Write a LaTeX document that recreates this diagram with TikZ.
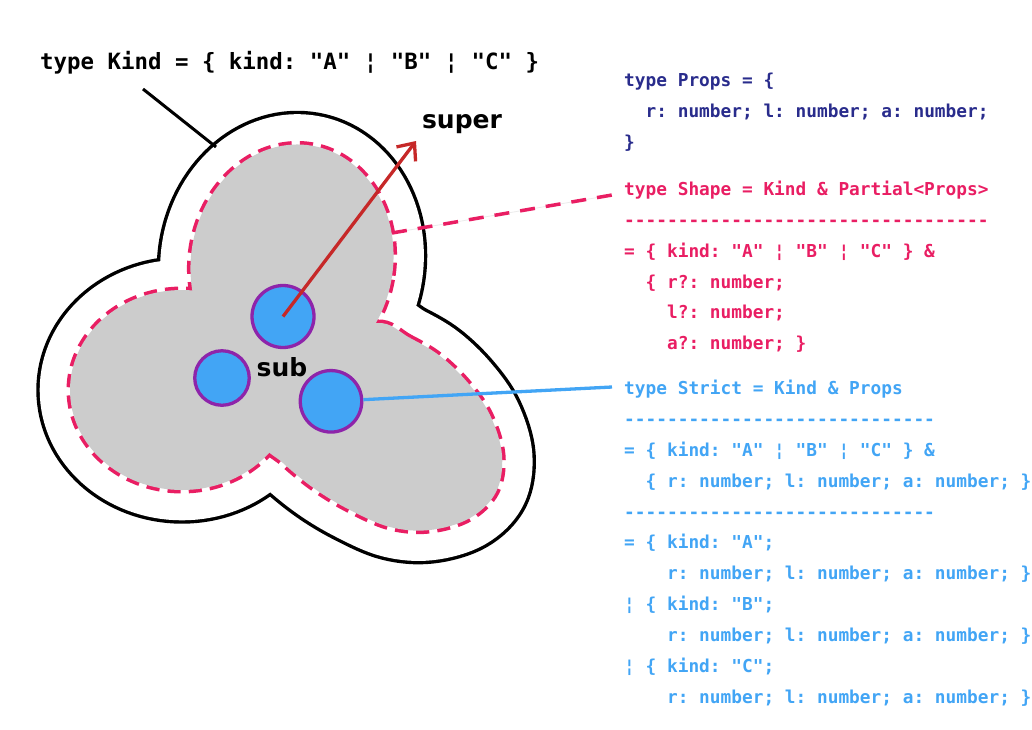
\documentclass[tikz,border=0pt]{standalone}
\usepackage{fontspec}
\setmonofont{DejaVu Sans Mono}
\newfontfamily\labelfont{DejaVu Sans}
\usetikzlibrary{arrows.meta}

\definecolor{navy}{RGB}{41,44,140}
\definecolor{shapepink}{RGB}{233,30,99}
\definecolor{strictblue}{RGB}{66,165,245}
\definecolor{arrowred}{RGB}{198,40,40}
\definecolor{ringpurple}{RGB}{142,36,170}
\definecolor{blobgray}{RGB}{204,204,204}

\newcommand\lobeTop[1]{\path[#1, rotate around={-10:(292,262)}] (292,262) ellipse [x radius=101, y radius=118];}
\newcommand\lobeLeft[1]{\path[#1] (182,390) ellipse [x radius=112, y radius=100];}
\newcommand\lobeRight[1]{\path[#1] plot[smooth cycle, tension=0.6] coordinates {(376.7,323) (410,338) (440,356) (468,383) (490,415) (502,455) (496,492) (470,518) (430,530) (390,527) (350,510) (315,489) (283,463) (262,440) (275,390) (320,345)};}
\newcommand\allLobes[1]{\lobeTop{#1}\lobeLeft{#1}\lobeRight{#1}}

\begin{document}
\begin{tikzpicture}[x=1pt,y=-1pt,
  code/.style={anchor=base west, inner sep=0pt, font=\fontsize{17.8}{20}\selectfont\ttfamily\bfseries},
  propstext/.style={code, text=navy},
  shapetext/.style={code, text=shapepink},
  stricttext/.style={code, text=strictblue},
  dot/.style={circle, draw=ringpurple, fill=strictblue, line width=3.3pt, inner sep=0pt},
  biglabel/.style={inner sep=0pt, font=\fontsize{25}{28}\selectfont\labelfont\bfseries},
  line join=round]
\useasboundingbox (0,0) rectangle (1032,729);

% outer outline (offset of the inner shape)
\allLobes{fill=black, draw=black, line width=67.4pt}
\allLobes{fill=white, draw=white, line width=60.6pt}
% inner dashed shape
\allLobes{draw=shapepink, line width=7pt, dash pattern=on 13pt off 8pt}
\allLobes{fill=blobgray}

% title
\node[anchor=base west, inner sep=0pt, font=\fontsize{22.4}{26}\selectfont\ttfamily\bfseries] (kind) at (40,69) {type Kind = \{ kind: "A" ¦ "B" ¦ "C" \}};
\coordinate (k1) at (143,89);
\coordinate (k2) at (216,147);
\draw[line width=3pt] (k1) -- (k2);

% dots
\node[dot, minimum size=62pt] (c1) at (283,316.5) {};
\node[dot, minimum size=54.5pt] (c2) at (222,378) {};
\node[dot, minimum size=61.5pt] (c3) at (331,401.3) {};

\node[biglabel] (sub) at (282,367) {sub};
\node[biglabel] (super) at (462,124) {super};

\coordinate (tip) at (416,141);
\draw[arrowred, line width=3.3pt, -{Straight Barb[length=14pt, width=24pt, line width=3.3pt]}] (c1.center) -- (tip);

% connectors to text
\coordinate (sh1) at (392,233);
\coordinate (sh2) at (612,195);
\draw[black!8, line width=0.8pt] (sh1) -- (sh2);
\draw[shapepink, line width=3.5pt, dash pattern=on 15pt off 11pt] (sh1) -- (sh2);
\coordinate (st) at (612,387);
\draw[strictblue, line width=3.3pt] (c3) -- (st);

% Props
\node[propstext] (p1) at (624,86) {type Props = \{};
\node[propstext] (p2) at (624,117) {\phantom{xx}r: number; l: number; a: number;};
\node[propstext] (p3) at (624,148) {\}};

% Shape
\node[shapetext] (s1) at (624,195) {type Shape = Kind \& Partial<Props>};
\node[shapetext] (s2) at (624,226) {----------------------------------};
\node[shapetext] (s3) at (624,257) {= \{ kind: "A" ¦ "B" ¦ "C" \} \&};
\node[shapetext] (s4) at (624,288) {\phantom{xx}\{ r?: number;};
\node[shapetext] (s5) at (624,318) {\phantom{xxxx}l?: number;};
\node[shapetext] (s6) at (624,349) {\phantom{xxxx}a?: number; \}};

% Strict
\node[stricttext] (t1) at (624,394) {type Strict = Kind \& Props};
\node[stricttext] (t2) at (624,425) {-----------------------------};
\node[stricttext] (t3) at (624,456) {= \{ kind: "A" ¦ "B" ¦ "C" \} \&};
\node[stricttext] (t4) at (624,487) {\phantom{xx}\{ r: number; l: number; a: number; \}};
\node[stricttext] (t5) at (624,518) {-----------------------------};
\node[stricttext] (t6) at (624,548) {= \{ kind: "A";};
\node[stricttext] (t7) at (624,579) {\phantom{xxxx}r: number; l: number; a: number; \}};
\node[stricttext] (t8) at (624,610) {¦ \{ kind: "B";};
\node[stricttext] (t9) at (624,641) {\phantom{xxxx}r: number; l: number; a: number; \}};
\node[stricttext] (t10) at (624,672) {¦ \{ kind: "C";};
\node[stricttext] (t11) at (624,703) {\phantom{xxxx}r: number; l: number; a: number; \}};
\end{tikzpicture}
\end{document}
